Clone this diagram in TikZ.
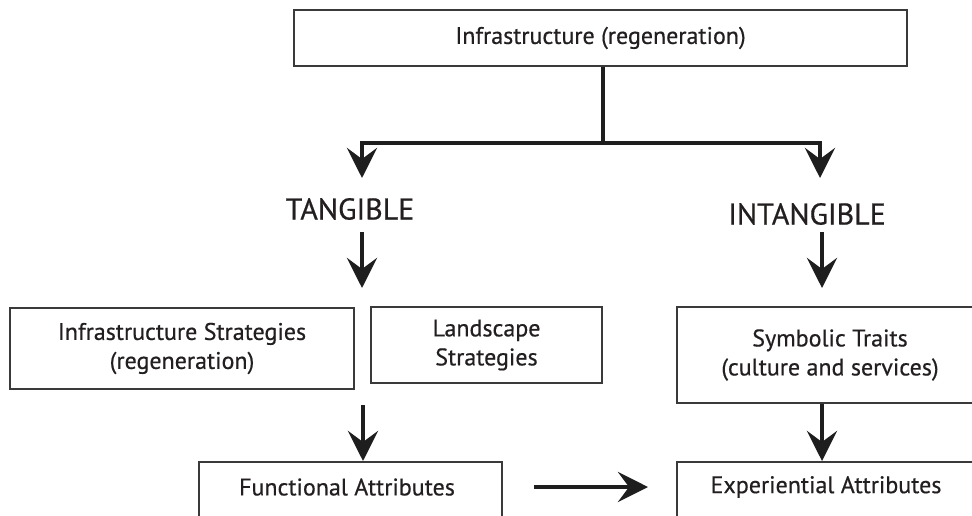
\documentclass[tikz,border=0pt]{standalone}
\usepackage{fontspec}
\setmainfont{PT Sans}[FakeBold=0.5]
\usetikzlibrary{arrows.meta}
\definecolor{boxgray}{HTML}{3A3A3A}
\definecolor{arrowblack}{HTML}{1E1E1E}
\definecolor{txt}{HTML}{231F20}
\begin{document}
\begin{tikzpicture}[x=1pt,y=-1pt,
  box/.style={draw=boxgray, line width=1.5pt, fill=white, inner sep=0pt, align=center, text=txt, font=\fontsize{24}{29}\selectfont},
  lbl/.style={font=\fontsize{24}{29}\selectfont, inner sep=0pt, text=txt},
  big/.style={font=\fontsize{30}{36}\selectfont, inner sep=0pt, text=txt},
  arr/.style={line width=4.5pt, draw=arrowblack, -{Stealth[length=30pt,width=30pt,inset=11pt]}},
  bar/.style={line width=4.5pt, draw=arrowblack}]
\useasboundingbox (0,0) rectangle (972,515);
\clip (0,0) rectangle (972,515);
\fill[white] (0,0) rectangle (972,515);

\node[box, minimum width=613pt, minimum height=56pt] (top) at (600.5,38) {Infrastructure (regeneration)};
\node[big] (tang) at (350,209) {TANGIBLE};
\node[big] (intang) at (807,214) {INTANGIBLE};
\node[box, minimum width=344pt, minimum height=81pt] (isb) at (182,348.5) {Infrastructure Strategies\\(regeneration)};
\node[box, minimum width=231pt, minimum height=76pt] (lsb) at (486.5,345) {Landscape\\Strategies};
\node[box, minimum width=306pt, minimum height=96pt] (sym) at (830,355) {Symbolic Traits\\(culture and services)};
\node[box, minimum width=303pt, minimum height=80pt, anchor=north] (fab) at (350.5,461) {};
\node[lbl] (fat) at (347,487) {Functional Attributes};
\node[box, minimum width=306pt, minimum height=80pt, anchor=north] (eab) at (830,461) {};
\node[lbl] (eat) at (826,487) {Experiential Attributes};

\coordinate (j) at (603,143);
\coordinate (tl) at (362,178);
\coordinate (tr) at (820,178);
\draw[bar] (top.south -| j) -- (j);
\draw[arr] (j) -| (tl);
\draw[arr] (j) -| (tr);

\coordinate (t1) at (362,232);
\coordinate (t2) at (362,288);
\draw[arr] (t1) -- (t2);
\coordinate (i1) at (822,232);
\coordinate (i2) at (822,288);
\draw[arr] (i1) -- (i2);

\coordinate (a1) at (363,405);
\draw[arr] (a1) -- (fab.north -| a1);
\coordinate (sx) at (822,0);
\draw[arr] (sym.south -| sx) -- (eab.north -| sx);

\coordinate (h1) at (534,487);
\coordinate (h2) at (648,487);
\draw[arr] (h1) -- (h2);
\end{tikzpicture}
\end{document}
